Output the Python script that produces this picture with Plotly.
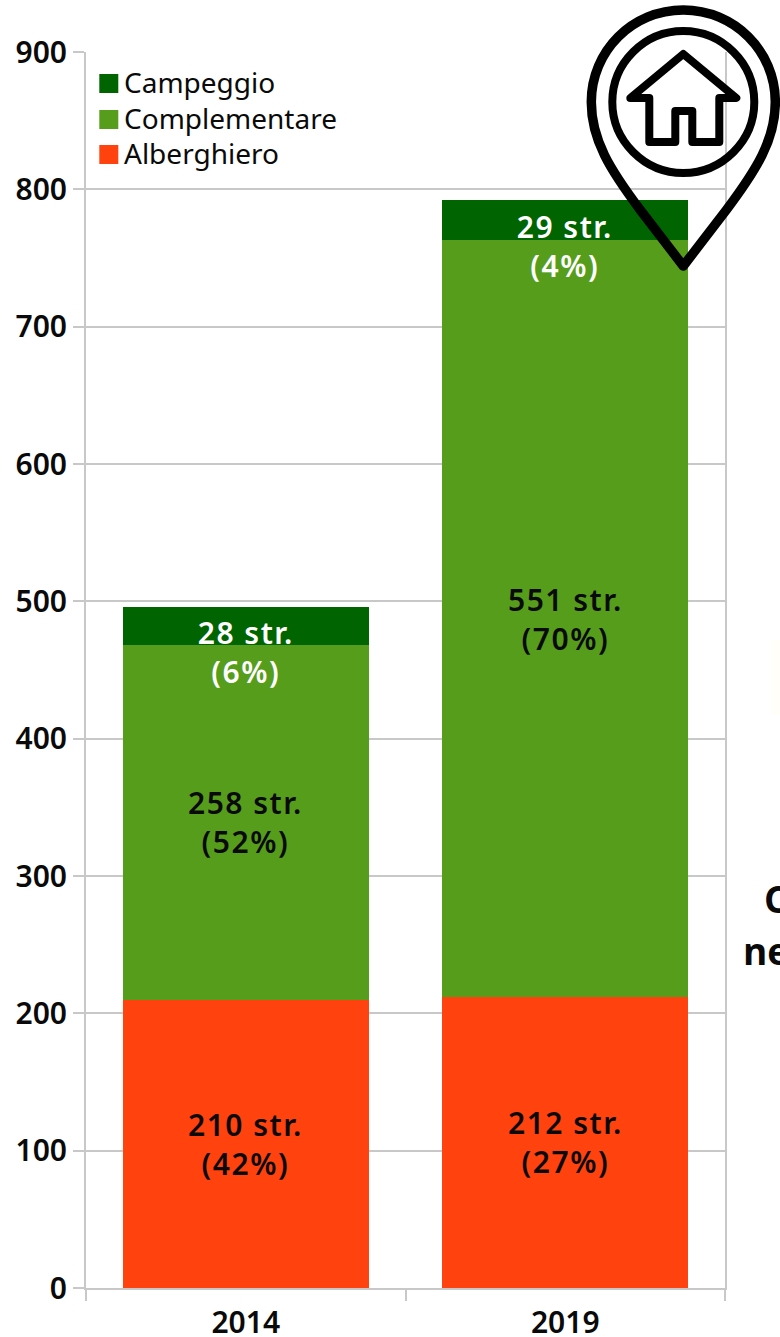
import plotly.graph_objects as go

years = ["2014", "2019"]
alberghiero = [210, 212]
complementare = [258, 551]
campeggio = [28, 29]
pct_alberghiero = [42, 27]
pct_complementare = [52, 70]
pct_campeggio = [6, 4]
y_ticks = [0, 100, 200, 300, 400, 500, 600, 700, 800, 900]
legend_names = ["Campeggio", "Complementare", "Alberghiero"]

C_ALB, C_COM, C_CAM = "#ff420e", "#579d1c", "#006400"
GRID = "#c8c8c8"
FONT = "Noto Sans"
INK = "#0a0a0a"
W, H = 780, 1337
L, R, T, B = 85.7, 724.7, 52, 1288


def px(x):
    return (x - L) / (R - L)


def py(y):
    return 1 - (y - T) / (B - T)


fig = go.Figure()
for name, vals, col in [("Alberghiero", alberghiero, C_ALB),
                        ("Complementare", complementare, C_COM),
                        ("Campeggio", campeggio, C_CAM)]:
    fig.add_trace(go.Bar(x=years, y=vals, marker=dict(color=col, line=dict(width=0)),
                         showlegend=False, name=name))

ann = []
lab_font = dict(size=30, family=FONT, color=INK, weight=600)
for i in range(len(years)):
    a, c, k = alberghiero[i], complementare[i], campeggio[i]
    for y, txt, col, ys in [(a / 2, f"{a} str.<br>({pct_alberghiero[i]}%)", INK, 0),
                            (a + c / 2, f"{c} str.<br>({pct_complementare[i]}%)", INK, 0),
                            (a + c + k / 2, f"{k} str.<br>({pct_campeggio[i]}%)", "#ffffff", -26)]:
        ann.append(dict(x=i, y=y, text=txt, xref="x", yref="y", showarrow=False, yshift=ys,
                        font={**lab_font, "color": col}))

# words cut by the right edge of the picture
for txt, x, y in [("C", 762, 898), ("ne", 741, 950)]:
    ann.append(dict(text=txt, xref="paper", yref="paper", x=px(x), y=py(y), xanchor="left", yanchor="middle",
                    showarrow=False, font=dict(size=37, family="Open Sans", color=INK, weight=700)))

shapes = []
# legend
for name, col, yc in zip(legend_names, [C_CAM, C_COM, C_ALB], [83.5, 119.5, 154.5]):
    shapes.append(dict(type="rect", xref="paper", yref="paper", x0=px(99), x1=px(118), y0=py(yc - 9.5), y1=py(yc + 9.5),
                       fillcolor=col, line=dict(width=0), layer="above"))
    ann.append(dict(text=name, xref="paper", yref="paper", x=px(122), y=py(yc - 1), xanchor="left", yanchor="middle",
                    showarrow=False, font=dict(size=28, family=FONT, color=INK)))

# faint patch at the right edge
shapes.append(dict(type="rect", xref="paper", yref="paper", x0=px(771), x1=px(780), y0=py(715), y1=py(640),
                   fillcolor="#fffef8", line=dict(width=0), layer="below"))


def conv(path):
    out = []
    xy = 0
    for t in path.replace(",", " ").split():
        if t in "MLCZ":
            out.append(t)
            xy = 0
        else:
            out.append(f"{px(float(t)):.5f}" if xy == 0 else f"{py(float(t)):.5f}")
            xy = 1 - xy
    return " ".join(out)


pin = ("M 683,266 L 640,210 C 610,170 591,140 591,102 C 591,51 632,10 683,10 "
       "C 734,10 775,51 775,102 C 775,140 756,170 726,210 Z")
circ = ("M 683,31 C 722,31 754,63 754,102 C 754,141 722,173 683,173 "
        "C 644,173 612,141 612,102 C 612,63 644,31 683,31 Z")
house = ("M 683,54 L 736,98 L 719,98 L 719,142 L 692,142 L 692,111 L 675,111 L 675,142 "
         "L 649,142 L 649,98 L 630,98 Z")
for p, w in [(pin, 9.5), (circ, 8), (house, 8)]:
    shapes.append(dict(type="path", xref="paper", yref="paper", path=conv(p), line=dict(color="black", width=w),
                       layer="above", fillcolor="rgba(0,0,0,0)"))

tick_font = dict(size=30, weight=600, family=FONT, color=INK)
fig.update_layout(
    barmode="stack", bargap=0.23, width=W, height=H,
    margin=dict(l=L, r=W - R, t=T, b=H - B),
    paper_bgcolor="white", plot_bgcolor="white",
    font=dict(family=FONT, size=30, color=INK),
    showlegend=False,
    xaxis=dict(type="category", range=[-0.5, 1.5], showgrid=False, showline=True, linecolor=GRID, linewidth=2,
               ticks="outside", ticklen=11, tickcolor=GRID, tickwidth=2, tickson="boundaries",
               ticklabelstandoff=7, tickfont=tick_font, automargin=False, fixedrange=True),
    yaxis=dict(range=[0, 900], tickvals=y_ticks, gridcolor=GRID, gridwidth=2, showline=True, linecolor=GRID,
               linewidth=2, ticks="outside", ticklen=11, tickcolor=GRID, tickwidth=2, zeroline=False,
               tickfont=tick_font, automargin=False, fixedrange=True, mirror=True),
    annotations=ann, shapes=shapes,
)
post = ("document.body.style.margin='0';document.documentElement.style.overflow='hidden';"
        "document.querySelectorAll('.shapelayer path').forEach(function(p){"
        "p.style.strokeLinejoin='round';p.style.strokeLinecap='round';});"
        "document.querySelectorAll('.annotation-text').forEach(function(t){"
        "if(t.textContent.indexOf('str.')>=0){t.style.letterSpacing='1.5px';}});")
fig.write_html("out.html", post_script=post, config={"displayModeBar": False})
